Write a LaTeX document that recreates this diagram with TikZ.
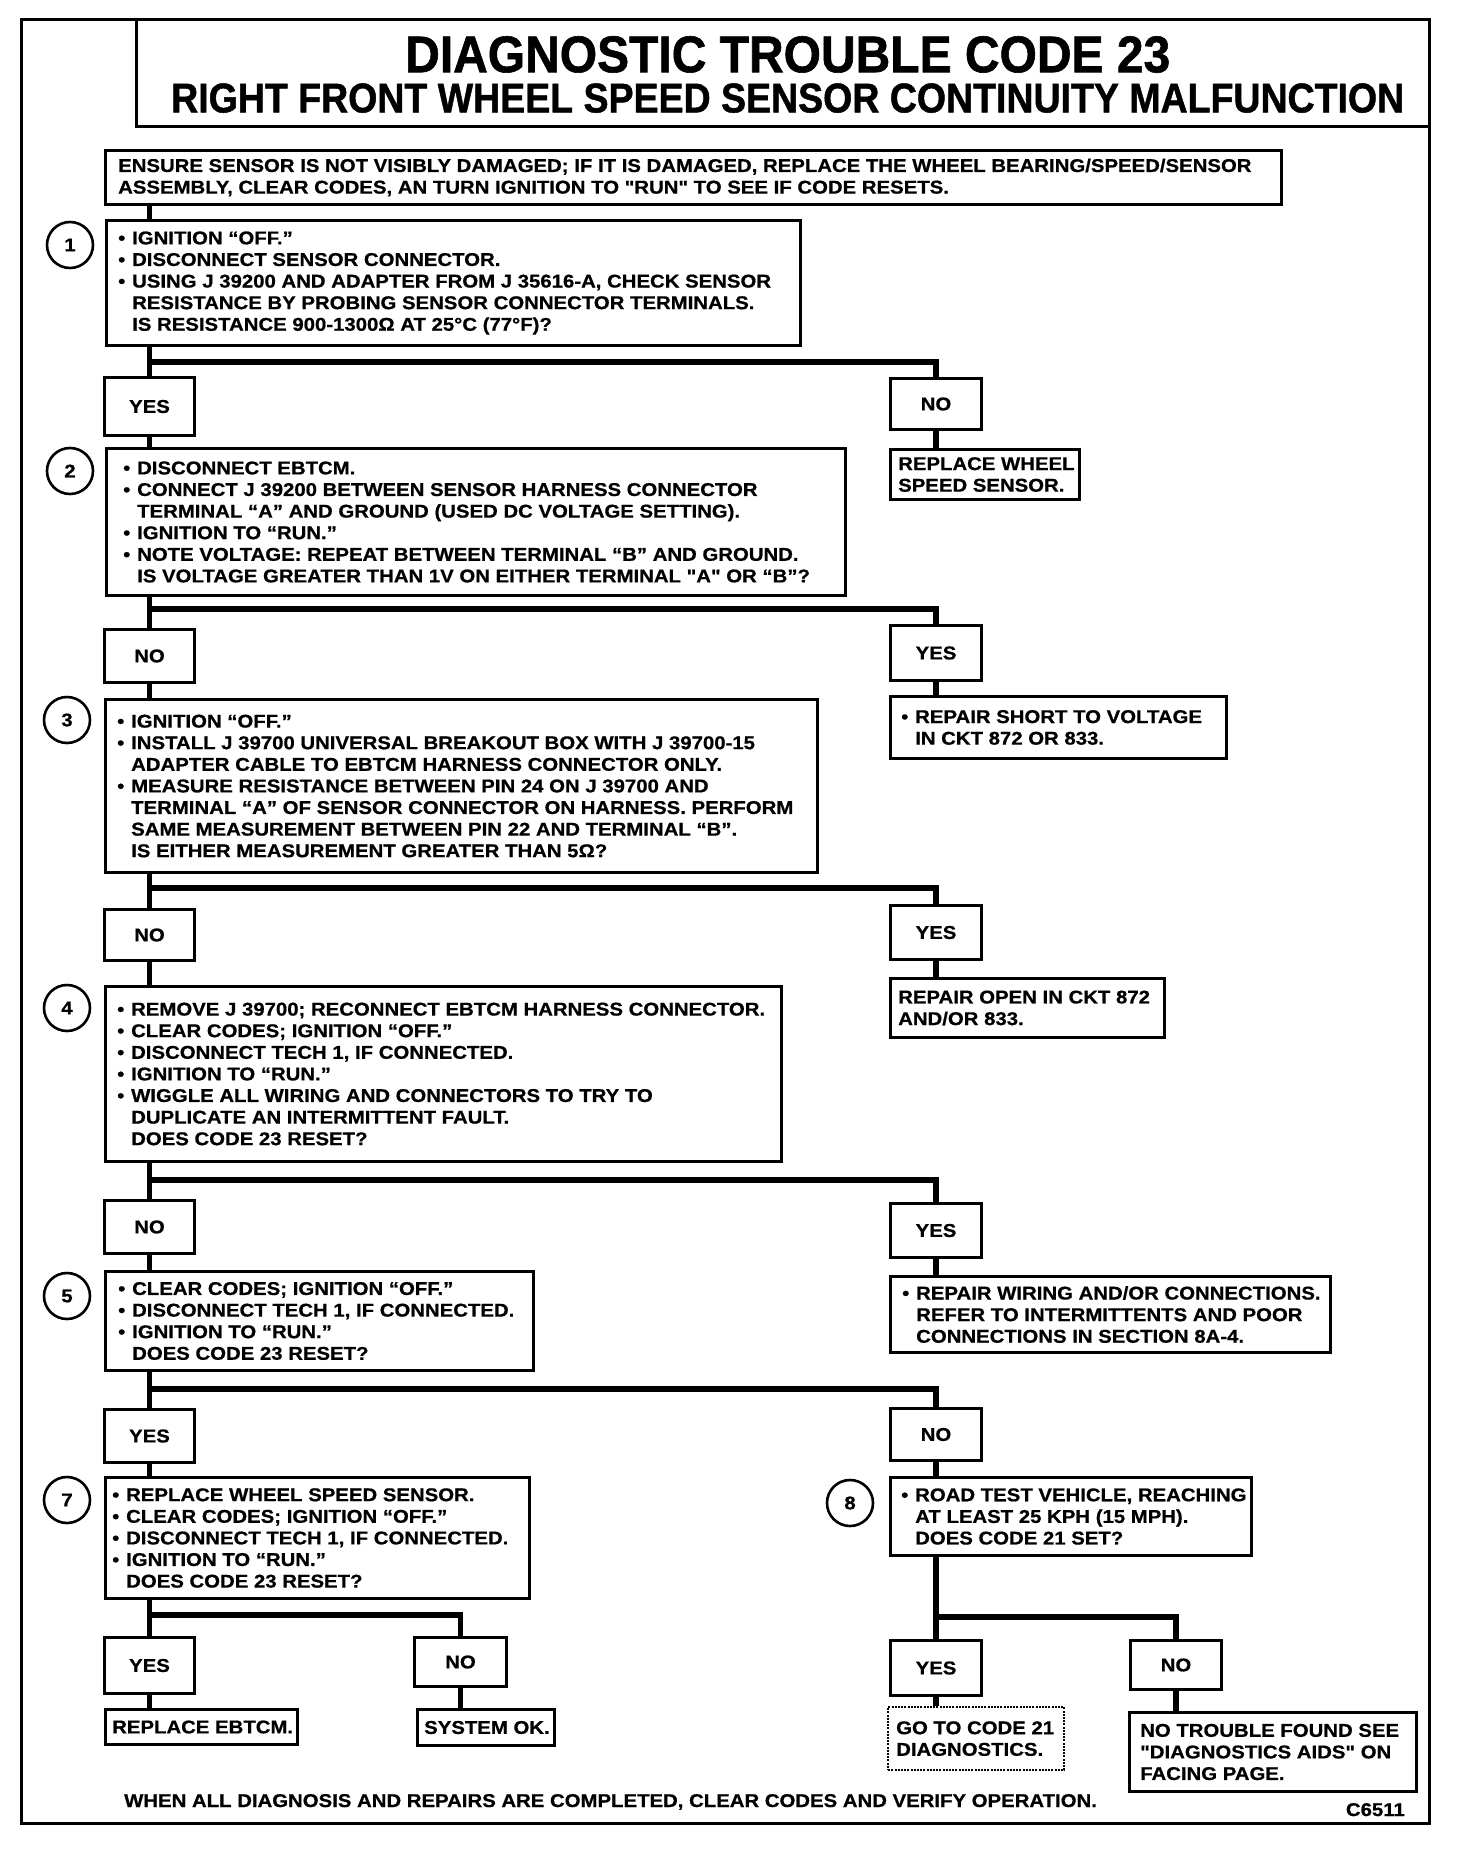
\documentclass[tikz,border=0pt]{standalone}
\usepackage{fontspec}
\usepackage{graphicx}
\setmainfont{Liberation Sans}
\newfontfamily\bodyfam{Liberation Sans}[FakeStretch=1.1, BoldFeatures={FakeBold=0.7}]
\newfontfamily\titlefam{Liberation Sans}[BoldFeatures={FakeBold=1.2}]
\newcommand\bodyf{\bodyfam\bfseries\fontsize{18.5}{21.6}\selectfont}
\newcommand\bul{\makebox[14pt][l]{•}}
\newcommand\ind{\hspace*{14pt}}
\begin{document}
\begin{tikzpicture}[x=1pt,y=-1pt,line join=miter]
\useasboundingbox (0,0) rectangle (1472,1854);
\tikzset{
  frame/.style={draw, line width=3pt, anchor=north west, inner sep=0pt},
  dotframe/.style={draw, line width=2.2pt, dash pattern=on 2pt off 1.2pt, anchor=north west, inner sep=0pt},
  txt/.style={anchor=west, align=left, inner sep=0pt, font=\bodyf},
  lbl/.style={draw, line width=3pt, anchor=north west, inner sep=0pt, font=\bodyf},
  conn/.style={line width=5.2pt},
  num/.style={draw, circle, line width=2.6pt, minimum size=46pt, inner sep=0pt, font=\bodyf}
}
% outer frame and title box
\draw[line width=3pt] (21,20) rectangle (1429,1823);
\draw[line width=3pt] (136,20) rectangle (1429,127);
\node[anchor=south west, inner sep=0pt] (t1) at (405,73)
  {\resizebox{765pt}{36pt}{\titlefam\bfseries DIAGNOSTIC TROUBLE CODE 23}};
\node[anchor=south west, inner sep=0pt] (t2) at (171,113)
  {\resizebox{1233pt}{29pt}{\titlefam\bfseries RIGHT FRONT WHEEL SPEED SENSOR CONTINUITY MALFUNCTION}};

% intro
\node[frame, minimum width=1176pt, minimum height=54pt] (intro) at (104,149) {};
\node[txt] at ([xshift=14pt]intro.west) {ENSURE SENSOR IS NOT VISIBLY DAMAGED; IF IT IS DAMAGED, REPLACE THE WHEEL BEARING/SPEED/SENSOR\\ASSEMBLY, CLEAR CODES, AN TURN IGNITION TO "RUN" TO SEE IF CODE RESETS.};

% step 1
\node[num] (c1) at (70,245) {1};
\node[frame, minimum width=694pt, minimum height=125pt] (b1) at (105,219) {};
\node[txt] at ([xshift=13pt]b1.west) {\bul IGNITION “OFF.”\\\bul DISCONNECT SENSOR CONNECTOR.\\\bul USING J 39200 AND ADAPTER FROM J 35616-A, CHECK SENSOR\\\ind RESISTANCE BY PROBING SENSOR CONNECTOR TERMINALS.\\\ind IS RESISTANCE 900-1300Ω AT 25°C (77°F)?};
\node[lbl, minimum width=90pt, minimum height=58pt] (y1) at (103,376) {YES};
\node[lbl, minimum width=91pt, minimum height=51pt] (n1) at (889,377) {NO};
\node[frame, minimum width=189pt, minimum height=50pt] (rws) at (889,448) {};
\node[txt] at ([xshift=9pt]rws.west) {REPLACE WHEEL\\SPEED SENSOR.};

% step 2
\node[num] (c2) at (70,471) {2};
\node[frame, minimum width=739pt, minimum height=147pt] (b2) at (105,447) {};
\node[txt] at ([xshift=18pt]b2.west) {\bul DISCONNECT EBTCM.\\\bul CONNECT J 39200 BETWEEN SENSOR HARNESS CONNECTOR\\\ind TERMINAL “A” AND GROUND (USED DC VOLTAGE SETTING).\\\bul IGNITION TO “RUN.”\\\bul NOTE VOLTAGE: REPEAT BETWEEN TERMINAL “B” AND GROUND.\\\ind IS VOLTAGE GREATER THAN 1V ON EITHER TERMINAL "A" OR “B”?};
\node[lbl, minimum width=90pt, minimum height=53pt] (n2) at (103,628) {NO};
\node[lbl, minimum width=91pt, minimum height=55pt] (y2) at (889,624) {YES};
\node[frame, minimum width=336pt, minimum height=62pt] (short) at (889,695) {};
\node[txt] at ([xshift=12pt]short.west) {\bul REPAIR SHORT TO VOLTAGE\\\ind IN CKT 872 OR 833.};

% step 3
\node[num] (c3) at (67,720) {3};
\node[frame, minimum width=712pt, minimum height=173pt] (b3) at (104,698) {};
\node[txt] at ([xshift=13pt]b3.west) {\bul IGNITION “OFF.”\\\bul INSTALL J 39700 UNIVERSAL BREAKOUT BOX WITH J 39700-15\\\ind ADAPTER CABLE TO EBTCM HARNESS CONNECTOR ONLY.\\\bul MEASURE RESISTANCE BETWEEN PIN 24 ON J 39700 AND\\\ind TERMINAL “A” OF SENSOR CONNECTOR ON HARNESS. PERFORM\\\ind SAME MEASUREMENT BETWEEN PIN 22 AND TERMINAL “B”.\\\ind IS EITHER MEASUREMENT GREATER THAN 5Ω?};
\node[lbl, minimum width=90pt, minimum height=51pt] (n3) at (103,908) {NO};
\node[lbl, minimum width=91pt, minimum height=54pt] (y3) at (889,904) {YES};
\node[frame, minimum width=274pt, minimum height=59pt] (open) at (889,977) {};
\node[txt] at ([xshift=9pt]open.west) {REPAIR OPEN IN CKT 872\\AND/OR 833.};

% step 4
\node[num] (c4) at (67,1008) {4};
\node[frame, minimum width=676pt, minimum height=175pt] (b4) at (104,985) {};
\node[txt] at ([xshift=13pt]b4.west) {\bul REMOVE J 39700; RECONNECT EBTCM HARNESS CONNECTOR.\\\bul CLEAR CODES; IGNITION “OFF.”\\\bul DISCONNECT TECH 1, IF CONNECTED.\\\bul IGNITION TO “RUN.”\\\bul WIGGLE ALL WIRING AND CONNECTORS TO TRY TO\\\ind DUPLICATE AN INTERMITTENT FAULT.\\\ind DOES CODE 23 RESET?};
\node[lbl, minimum width=90pt, minimum height=53pt] (n4) at (103,1199) {NO};
\node[lbl, minimum width=91pt, minimum height=54pt] (y4) at (889,1202) {YES};
\node[frame, minimum width=440pt, minimum height=76pt] (wiring) at (889,1275) {};
\node[txt] at ([xshift=13pt]wiring.west) {\bul REPAIR WIRING AND/OR CONNECTIONS.\\\ind REFER TO INTERMITTENTS AND POOR\\\ind CONNECTIONS IN SECTION 8A-4.};

% step 5
\node[num] (c5) at (67,1296) {5};
\node[frame, minimum width=428pt, minimum height=99pt] (b5) at (104,1270) {};
\node[txt] at ([xshift=14pt]b5.west) {\bul CLEAR CODES; IGNITION “OFF.”\\\bul DISCONNECT TECH 1, IF CONNECTED.\\\bul IGNITION TO “RUN.”\\\ind DOES CODE 23 RESET?};
\node[lbl, minimum width=90pt, minimum height=53pt] (y5) at (103,1408) {YES};
\node[lbl, minimum width=91pt, minimum height=52pt] (n5) at (889,1407) {NO};

% step 7
\node[num] (c7) at (67,1500) {7};
\node[frame, minimum width=424pt, minimum height=121pt] (b7) at (104,1476) {};
\node[txt] at ([xshift=8pt]b7.west) {\bul REPLACE WHEEL SPEED SENSOR.\\\bul CLEAR CODES; IGNITION “OFF.”\\\bul DISCONNECT TECH 1, IF CONNECTED.\\\bul IGNITION TO “RUN.”\\\ind DOES CODE 23 RESET?};
\node[lbl, minimum width=90pt, minimum height=56pt] (y7) at (103,1636) {YES};
\node[lbl, minimum width=92pt, minimum height=49pt] (n7) at (413,1636) {NO};
\node[frame, minimum width=192pt, minimum height=35pt] (ebtcm) at (104,1708) {};
\node[txt] at ([xshift=8pt]ebtcm.west) {REPLACE EBTCM.};
\node[frame, minimum width=137pt, minimum height=36pt] (sysok) at (416,1708) {};
\node[txt] at ([xshift=8pt]sysok.west) {SYSTEM OK.};

% step 8
\node[num] (c8) at (850,1503) {8};
\node[frame, minimum width=361pt, minimum height=78pt] (b8) at (889,1476) {};
\node[txt] at ([xshift=12pt]b8.west) {\bul ROAD TEST VEHICLE, REACHING\\\ind AT LEAST 25 KPH (15 MPH).\\\ind DOES CODE 21 SET?};
\node[lbl, minimum width=91pt, minimum height=55pt] (y8) at (889,1639) {YES};
\node[lbl, minimum width=91pt, minimum height=49pt] (n8) at (1129,1639) {NO};
\node[dotframe, minimum width=176pt, minimum height=63pt] (goto) at (887,1706) {};
\node[txt] at ([xshift=9pt]goto.west) {GO TO CODE 21\\DIAGNOSTICS.};
\node[frame, minimum width=287pt, minimum height=79pt] (ntf) at (1128,1711) {};
\node[txt] at ([xshift=12pt]ntf.west) {NO TROUBLE FOUND SEE\\"DIAGNOSTICS AIDS" ON\\FACING PAGE.};

% footer
\node[txt, anchor=base west] (foot) at (124,1807) {WHEN ALL DIAGNOSIS AND REPAIRS ARE COMPLETED, CLEAR CODES AND VERIFY OPERATION.};
\node[txt, anchor=base east] (code) at (1405,1816) {C6511};

% branch coordinates
\coordinate (j1) at (0,362);
\coordinate (j2) at (0,609);
\coordinate (j3) at (0,888);
\coordinate (j4) at (0,1180);
\coordinate (j5) at (0,1389);
\coordinate (j7) at (0,1615);
\coordinate (j8) at (0,1617);

% connectors
\draw[conn] (intro.south -| y1) -- (b1.north -| y1);
\draw[conn] (b1.south -| y1) -- (y1.north);
\draw[conn] (y1.north |- j1) -| (n1.north);
\draw[conn] (n1.south) -- (rws.north -| n1);
\draw[conn] (y1.south) -- (b2.north -| y1);

\draw[conn] (b2.south -| n2) -- (n2.north);
\draw[conn] (n2.north |- j2) -| (y2.north);
\draw[conn] (y2.south) -- (short.north -| y2);
\draw[conn] (n2.south) -- (b3.north -| n2);

\draw[conn] (b3.south -| n3) -- (n3.north);
\draw[conn] (n3.north |- j3) -| (y3.north);
\draw[conn] (y3.south) -- (open.north -| y3);
\draw[conn] (n3.south) -- (b4.north -| n3);

\draw[conn] (b4.south -| n4) -- (n4.north);
\draw[conn] (n4.north |- j4) -| (y4.north);
\draw[conn] (y4.south) -- (wiring.north -| y4);
\draw[conn] (n4.south) -- (b5.north -| n4);

\draw[conn] (b5.south -| y5) -- (y5.north);
\draw[conn] (y5.north |- j5) -| (n5.north);
\draw[conn] (n5.south) -- (b8.north -| n5);
\draw[conn] (y5.south) -- (b7.north -| y5);

\draw[conn] (b7.south -| y7) -- (y7.north);
\draw[conn] (y7.north |- j7) -| (n7.north);
\draw[conn] (y7.south) -- (ebtcm.north -| y7);
\draw[conn] (n7.south) -- (sysok.north -| n7);

\draw[conn] (b8.south -| y8) -- (y8.north);
\draw[conn] (y8.north |- j8) -| (n8.north);
\draw[conn] (y8.south) -- (goto.north -| y8);
\draw[conn] (n8.south) -- (ntf.north -| n8);
\end{tikzpicture}
\end{document}
